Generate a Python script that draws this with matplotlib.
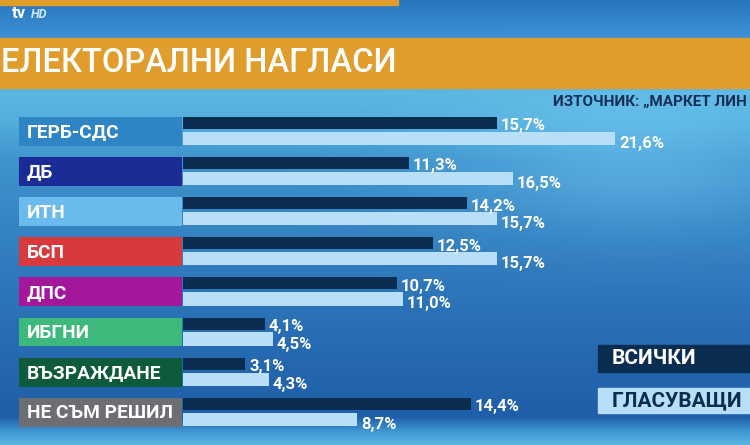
import numpy as np
import matplotlib
matplotlib.use("Agg")
from matplotlib import pyplot as plt
from matplotlib.colors import LinearSegmentedColormap

plt.rcParams['font.family'] = ['Roboto', 'DejaVu Sans']

# данни
parties = ["ГЕРБ-СДС", "ДБ", "ИТН", "БСП", "ДПС", "ИБГНИ", "ВЪЗРАЖДАНЕ", "НЕ СЪМ РЕШИЛ"]
all_people = [15.7, 11.3, 14.2, 12.5, 10.7, 4.1, 3.1, 14.4]
voters = [21.6, 16.5, 15.7, 15.7, 11.0, 4.5, 4.3, 8.7]
party_colors = ["#2f85c4", "#1b2c97", "#6bbaee", "#d8393c", "#a3179b",
                "#3db97b", "#0e5a3c", "#6d6e72"]

title = "ЕЛЕКТОРАЛНИ НАГЛАСИ"
source = "ИЗТОЧНИК: „МАРКЕТ ЛИН"
legend_labels = ["ВСИЧКИ", "ГЛАСУВАЩИ"]

DARK = "#0c2d52"
LIGHT = "#b9def7"
ORANGE = "#e19d2c"

W, H = 750, 445
fig = plt.figure(figsize=(W / 100, H / 100), dpi=100)

# фон - пиксели
bg = fig.add_axes([0, 0, 1, 1])
bg.set_xlim(0, W)
bg.set_ylim(H, 0)
bg.axis("off")

cmap = LinearSegmentedColormap.from_list("bg", [
    (0.00, "#2a76bf"), (0.08, "#3b92d4"), (0.21, "#5cb6e2"), (0.26, "#56b0de"),
    (0.36, "#3f93cc"), (0.65, "#2d76ba"), (0.94, "#1f5ea8"), (0.97, "#3d92cf"),
    (1.00, "#58b2e0")])
yy = np.linspace(0, 1, 300)[:, None]
xx = np.linspace(0, 1, 300)[None, :]
grad = yy + 0 * xx
glow = 0.10 * np.exp(-((xx - 0.85) ** 2 / 0.05 + (yy - 0.38) ** 2 / 0.02))
img = cmap(np.clip(grad, 0, 1))
img[..., :3] = np.clip(img[..., :3] + glow[..., None] * np.array([1.0, 1.0, 0.8]), 0, 1)
bg.imshow(img, extent=(0, W, H, 0), aspect="auto", zorder=0)

# горна лента и заглавие
bg.add_patch(plt.Rectangle((0, 0), 398, 4.5, color=ORANGE, zorder=1))
bg.add_patch(plt.Rectangle((0, 38), W, 50, color=ORANGE, zorder=1))
bg.text(1, 63, title, color="white", fontsize=23.5, fontweight="medium",
        va="center", ha="left", zorder=2)
bg.text(12, 14, "tv", color="white", fontsize=12, fontweight="bold", va="center", zorder=2)
bg.text(31, 14, "HD", color="#cfe6f7", fontsize=9, fontstyle="italic",
        fontweight="bold", va="center", zorder=2)
bg.text(553, 102, source, color="#172f58", fontsize=11, fontweight="bold",
        va="center", ha="left", zorder=2)

# легенда
bg.add_patch(plt.Rectangle((598, 345), 160, 27, color=DARK, zorder=1))
bg.add_patch(plt.Rectangle((598, 388), 160, 25, color=LIGHT, zorder=1))
bg.text(612, 359, legend_labels[0], color="white", fontsize=15, fontweight="bold",
        va="center", zorder=2)
bg.text(612, 401, legend_labels[1], color=DARK, fontsize=15, fontweight="bold",
        va="center", zorder=2)

# графика
x0, scale = 183, 20.0
row0, pitch = 131.5, 40.1
ax = fig.add_axes([0, 0, 1, 1])
ax.patch.set_alpha(0)
ax.set_xlim(-x0 / scale, (W - x0) / scale)
ax.set_ylim((H - row0) / pitch, -row0 / pitch)
ax.axis("off")

rows = np.arange(len(parties))
ax.barh(rows, 8.15, left=-8.2, height=0.72, color=party_colors)
ax.barh(rows - 0.21, all_people, height=0.30, color=DARK)
ax.barh(rows + 0.175, voters, height=0.33, color=LIGHT)

for i, name in enumerate(parties):
    ax.text(-7.8, i + 0.02, name, color="white", fontsize=13.8, fontweight="bold",
            va="center", ha="left")
    ax.text(all_people[i] + 0.2, i - 0.14, f"{all_people[i]:.1f}%".replace(".", ","),
            color="white", fontsize=12, fontweight="bold", va="center")
    ax.text(voters[i] + 0.2, i + 0.3, f"{voters[i]:.1f}%".replace(".", ","),
            color="white", fontsize=12, fontweight="bold", va="center")

fig.savefig("out.png", dpi=100)
